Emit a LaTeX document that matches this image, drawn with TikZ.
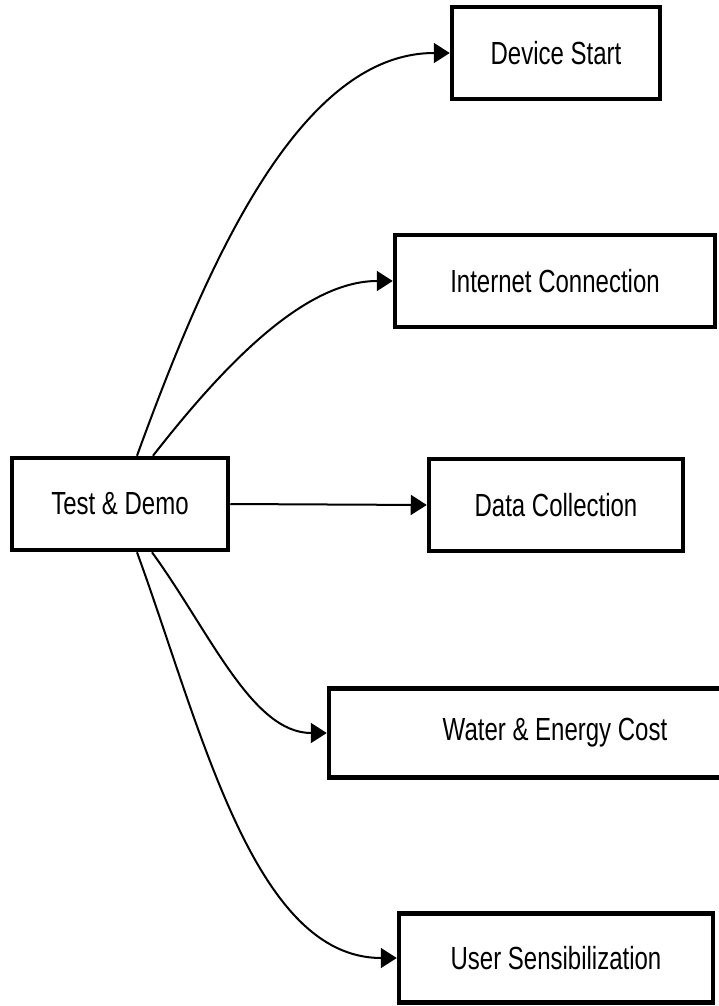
\documentclass[tikz,border=0pt]{standalone}
\usepackage{fontspec}
\setmainfont{Liberation Sans}[FakeStretch=0.75]
\usetikzlibrary{arrows.meta}

\tikzset{
    stepbox/.style={draw, line width=4.5pt, fill=white, minimum height=92pt,
        inner sep=0pt, font=\fontsize{32}{36}\selectfont},
    flow/.style={line width=2pt, -{Triangle[length=16pt,width=20pt]}},
    swing/.style={in=180, in looseness=0.76}
}

\begin{document}
\begin{tikzpicture}[x=1pt, y=-1pt]
                \useasboundingbox (0,0) rectangle (718,1006);
                % Source box
                \node[stepbox, minimum width=216pt] (test) at (120,504) {Test \& Demo};
                % Targets
                \node[stepbox, minimum width=208pt] (start) at (556,53) {Device Start};
                \node[stepbox, minimum width=320pt] (inet) at (555,281) {Internet Connection};
                \node[stepbox, minimum width=254pt] (data) at (556,505) {Data Collection};
                \node[stepbox, minimum width=452pt, minimum height=89pt] (cost) at (555,733) {Water \& Energy Cost};
                \node[stepbox, minimum width=314pt, minimum height=89pt] (user) at (556,958) {User Sensibilization};
                % Connectors
                \draw[flow] ([xshift=17pt]test.north) to[out=70, swing] (start.west);
                \draw[flow] ([xshift=33pt]test.north) to[out=52, swing] (inet.west);
                \draw[flow] (test.east) -- (data.west);
                \draw[flow] ([xshift=32pt]test.south) to[out=-54, swing] (cost.west);
                \draw[flow] ([xshift=17pt]test.south) to[out=-70, swing] (user.west);
            \end{tikzpicture}
\end{document}
